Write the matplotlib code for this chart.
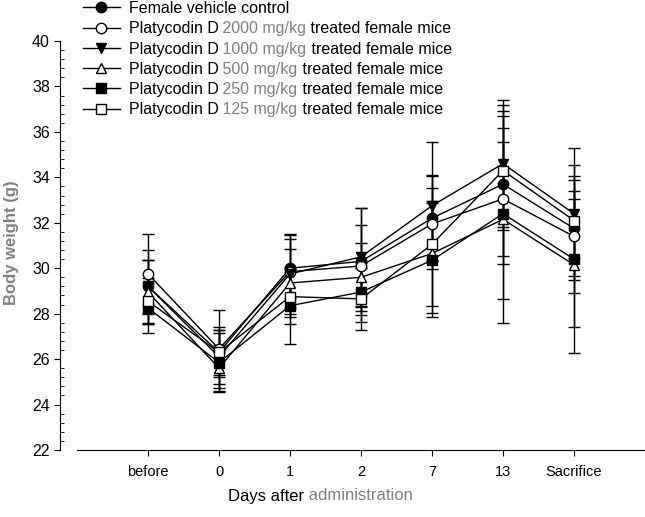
import matplotlib
matplotlib.use("Agg")
import matplotlib.pyplot as plt
from matplotlib.lines import Line2D
from matplotlib.ticker import MultipleLocator

plt.rcParams["font.family"] = ["Liberation Sans", "DejaVu Sans"]

# ---- data ----
days = ["before", "0", "1", "2", "7", "13", "Sacrifice"]
doses = ["2000", "1000", "500", "250", "125"]

ctrl_mean = [29.2, 26.3, 30.0, 30.3, 32.2, 33.7, 31.75]
ctrl_sd = [1.6, 1.0, 1.3, 2.35, 1.9, 3.5, 1.3]
d2000_mean = [29.75, 26.45, 29.85, 30.1, 31.95, 33.05, 31.4]
d2000_sd = [1.75, 1.7, 1.6, 1.8, 1.6, 2.5, 2.5]
d1000_mean = [29.2, 26.1, 29.75, 30.5, 32.75, 34.6, 32.4]
d1000_sd = [1.15, 1.2, 1.75, 2.15, 2.8, 2.8, 2.9]
d500_mean = [28.95, 25.6, 29.35, 29.6, 30.65, 32.15, 30.15]
d500_sd = [1.4, 1.0, 1.5, 1.5, 2.3, 4.55, 3.9]
d250_mean = [28.25, 25.85, 28.35, 28.95, 30.35, 32.4, 30.4]
d250_sd = [1.1, 1.3, 1.7, 1.3, 2.5, 3.75, 3.0]
d125_mean = [28.55, 26.3, 28.75, 28.65, 31.05, 34.3, 32.1]
d125_sd = [1.0, 1.1, 1.2, 1.35, 3.0, 2.6, 2.45]

series = [
    (ctrl_mean, ctrl_sd, "o", "black"),
    (d2000_mean, d2000_sd, "o", "white"),
    (d1000_mean, d1000_sd, "v", "black"),
    (d500_mean, d500_sd, "^", "white"),
    (d250_mean, d250_sd, "s", "black"),
    (d125_mean, d125_sd, "s", "white"),
]

grey = "#808080"
x = list(range(len(days)))

fig = plt.figure(figsize=(6.45, 5.17), dpi=100)
ax = fig.add_axes([77 / 645, 1 - 450 / 517, 1 - 77 / 645, (450 - 41) / 517])

handles = []
for mean, sd, mk, fc in series:
    ax.errorbar(x, mean, yerr=sd, fmt="-", color="black", lw=1,
                elinewidth=1, capsize=4, capthick=1, zorder=2)
    ax.plot(x, mean, linestyle="none", marker=mk, markersize=7.5,
            markerfacecolor=fc, markeredgecolor="black", markeredgewidth=1,
            zorder=3)
    handles.append(Line2D([], [], color="black", lw=1, marker=mk,
                          markersize=7.5, markerfacecolor=fc,
                          markeredgecolor="black"))

ax.set_xlim(-1, 7)
ax.set_ylim(22, 40)
ax.set_xticks(x)
ax.set_xticklabels(days)
ax.set_yticks(range(22, 41, 2))
ax.yaxis.set_minor_locator(MultipleLocator(0.4))

for s in ["top", "right"]:
    ax.spines[s].set_visible(False)
ax.spines["left"].set_position(("outward", 12))
ax.tick_params(axis="x", direction="out", length=4, labelsize=10.5, pad=7)
ax.tick_params(axis="y", which="major", direction="out", length=4,
               labelsize=11.5)
ax.tick_params(axis="y", which="minor", direction="in", length=3)

# y label
fig.text(12 / 645, 1 - 243 / 517, "Body weight (g)", rotation=90,
         ha="center", va="center", fontsize=12, fontweight="bold",
         color=grey)

# x label: black + grey part
xl = fig.text(228 / 645, 1 - 496 / 517, "Days after", ha="left",
              va="center", fontsize=12)
ax.annotate(" administration", xy=(1, 0), xycoords=xl, va="bottom",
            ha="left", fontsize=12, color=grey, zorder=10)

# legend; dose part drawn grey after the legend is laid out
labels = ["Female vehicle control"] + ["Platycodin D"] * len(doses)
leg = ax.legend(handles, labels, loc="upper left",
                bbox_to_anchor=(83 / 645, 1 - 1 / 517),
                bbox_transform=fig.transFigure,
                frameon=False, fontsize=11.5, borderpad=0, borderaxespad=0,
                handlelength=2.3, handletextpad=0.55, labelspacing=0.33)
leg.set_zorder(5)
for t, dose in zip(leg.get_texts()[1:], doses):
    a = ax.annotate(" " + dose + " mg/kg", xy=(1, 0), xycoords=t,
                    va="bottom", ha="left", fontsize=11.5, color=grey,
                    zorder=10)
    ax.annotate(" treated female mice", xy=(1, 0), xycoords=a,
                va="bottom", ha="left", fontsize=11.5, color="black",
                zorder=11)

fig.savefig("out.png", dpi=100)
